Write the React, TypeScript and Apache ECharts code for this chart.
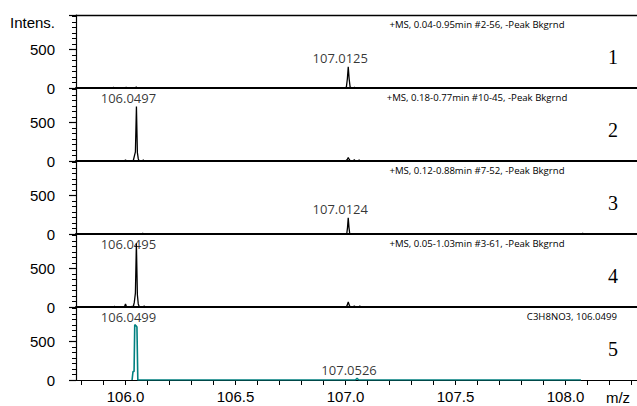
import React, { useEffect, useRef } from 'react';
import * as echarts from 'echarts';

// ---- axis ranges & ticks ----
const X_MIN = 105.775;
const X_MAX = 108.325;
const Y_MAX = 950;
const xTicks = [105.8, 105.9, 106.0, 106.1, 106.2, 106.3, 106.4, 106.5, 106.6, 106.7, 106.8, 106.9, 107.0, 107.1, 107.2, 107.3, 107.4, 107.5, 107.6, 107.7, 107.8, 107.9, 108.0, 108.1, 108.2, 108.3];
const xLabels = [106.0, 106.5, 107.0, 107.5, 108.0];
const yMajor = [0, 500];
const yMinor = [71, 143, 214, 286, 357, 429, 571, 643, 714, 786, 857, 929];

// ---- panel texts ----
const headers = [
  '+MS, 0.04-0.95min #2-56, -Peak Bkgrnd',
  '+MS, 0.18-0.77min #10-45, -Peak Bkgrnd',
  '+MS, 0.12-0.88min #7-52, -Peak Bkgrnd',
  '+MS, 0.05-1.03min #3-61, -Peak Bkgrnd',
  'C3H8NO3, 106.0499',
];
const panelNumbers = ['1', '2', '3', '4', '5'];

// ---- spectra [m/z, intensity] ----
const spectrum1 = [
  [105.78, 0], [105.94, 0], [105.945, 8], [105.95, 0], [106.0, 0], [106.003, 10], [106.006, 0],
  [106.045, 0], [106.049, 14], [106.053, 0], [106.995, 0], [107.004, 12], [107.0085, 120],
  [107.0125, 277], [107.0165, 120], [107.021, 12], [107.03, 0], [107.038, 0], [107.041, 10],
  [107.044, 0], [107.52, 0], [107.523, 8], [107.526, 0], [108.03, 0], [108.033, 8], [108.036, 0],
  [108.045, 0], [108.048, 8], [108.051, 0], [108.32, 0],
];
const spectrum2 = [
  [105.78, 0], [105.995, 0], [106.0, 15], [106.005, 0], [106.035, 0], [106.04, 60], [106.045, 120],
  [106.0497, 710], [106.054, 110], [106.058, 30], [106.062, 0], [106.078, 0], [106.081, 15],
  [106.084, 0], [106.88, 0], [106.883, 6], [106.886, 0], [107.0, 0], [107.008, 20], [107.0125, 45],
  [107.017, 20], [107.022, 0], [107.036, 0], [107.04, 18], [107.044, 0], [107.058, 0], [107.062, 15],
  [107.066, 0], [108.03, 0], [108.033, 8], [108.036, 0], [108.32, 0],
];
const spectrum3 = [
  [105.78, 0], [106.075, 0], [106.078, 12], [106.081, 0], [107.0, 0], [107.006, 10], [107.009, 80],
  [107.0124, 212], [107.016, 80], [107.019, 10], [107.025, 0], [108.03, 0], [108.033, 6],
  [108.036, 0], [108.075, 0], [108.078, 10], [108.081, 0], [108.32, 0],
];
const spectrum4 = [
  [105.78, 0], [105.945, 0], [105.95, 10], [105.955, 0], [105.995, 0], [106.0, 40], [106.005, 0],
  [106.025, 0], [106.03, 10], [106.035, 0], [106.04, 60], [106.045, 180], [106.0495, 830],
  [106.054, 160], [106.058, 40], [106.063, 0], [106.08, 0], [106.085, 12], [106.09, 0],
  [106.11, 0], [106.113, 8], [106.116, 0], [106.96, 0], [106.963, 8], [106.966, 0], [107.003, 0],
  [107.008, 25], [107.0125, 65], [107.017, 25], [107.022, 0], [107.035, 0], [107.04, 15],
  [107.045, 0], [107.06, 0], [107.065, 12], [107.07, 0], [107.5, 0], [107.503, 6], [107.506, 0],
  [107.99, 0], [107.993, 8], [107.996, 0], [108.06, 0], [108.063, 6], [108.066, 0], [108.32, 0],
];
const spectrum5 = [
  [106.03, 0], [106.034, 110], [106.039, 110], [106.042, 720], [106.048, 705], [106.052, 690],
  [106.056, 0], [107.045, 0], [107.0526, 22], [107.06, 0], [108.07, 0],
];
const spectra = [spectrum1, spectrum2, spectrum3, spectrum4, spectrum5];

// ---- labelled peaks [m/z, intensity] ----
const peaks1 = [[107.0125, 277]];
const peaks2 = [[106.0497, 710]];
const peaks3 = [[107.0124, 212]];
const peaks4 = [[106.0495, 830]];
const peaks5 = [[106.0499, 705], [107.0526, 22]];
const peakLists = [peaks1, peaks2, peaks3, peaks4, peaks5];

const TRACE_COLORS = ['#000000', '#000000', '#000000', '#000000', '#008080'];

const GRID_LEFT = 76;
const GRID_TOP = 15;
const PANEL_H = 73;
const SANS = 'Liberation Sans, Arial, sans-serif';
const NARROW = 'Open Sans, sans-serif';

function buildOption() {
  const grid: any[] = [];
  const xAxis: any[] = [];
  const yAxis: any[] = [];
  const series: any[] = [];
  const graphic: any[] = [];

  for (let i = 0; i < 5; i++) {
    const top = GRID_TOP + PANEL_H * i;
    grid.push({ left: GRID_LEFT, right: 0, top, height: PANEL_H, containLabel: false });
    const last = i === 4;
    xAxis.push({
      gridIndex: i,
      type: 'value',
      position: 'bottom',
      min: X_MIN,
      max: X_MAX,
      axisLine: { show: true, onZero: false, lineStyle: { color: '#000', width: last ? 1.2 : 2 } },
      axisTick: { show: last, customValues: xTicks, length: 5, lineStyle: { color: '#000', width: 1 } },
      axisLabel: {
        show: last,
        customValues: xLabels,
        formatter: (v: number) => v.toFixed(1),
        color: '#000',
        fontSize: 15,
        fontFamily: SANS,
        margin: 9,
      },
      splitLine: { show: false },
    });
    yAxis.push({
      gridIndex: i,
      type: 'value',
      position: 'left',
      min: 0,
      max: Y_MAX,
      axisLine: { show: true, onZero: false, lineStyle: { color: '#000', width: 1.2 } },
      axisTick: {
        show: true,
        customValues: i === 0 ? [...yMajor, Y_MAX] : yMajor,
        length: 7,
        lineStyle: { color: '#000', width: 1.2 },
      },
      axisLabel: { customValues: yMajor, color: '#000', fontSize: 15, fontFamily: SANS, margin: 21 },
      splitLine: { show: false },
    });
    yAxis.push({
      gridIndex: i,
      type: 'value',
      position: 'left',
      min: 0,
      max: Y_MAX,
      axisLine: { show: false, onZero: false },
      axisTick: { show: true, customValues: yMinor, length: 4, lineStyle: { color: '#000', width: 1 } },
      axisLabel: { show: false },
      splitLine: { show: false },
    });

    series.push({
      type: 'line',
      xAxisIndex: i,
      yAxisIndex: 2 * i,
      data: spectra[i],
      showSymbol: false,
      symbol: 'none',
      lineStyle: { color: TRACE_COLORS[i], width: last ? 1.6 : 1.3 },
      z: 3,
    });
    series.push({
      type: 'scatter',
      xAxisIndex: i,
      yAxisIndex: 2 * i,
      symbolSize: 0,
      data: peakLists[i].map((p) => ({
        value: p,
        label: i === 3 ? { offset: [-8, 9] } : undefined,
      })),
      label: {
        show: true,
        position: 'top',
        distance: 2,
        offset: [-8, 0],
        formatter: (p: any) => p.value[0].toFixed(4),
        color: '#000',
        fontSize: 13,
        fontFamily: NARROW,
      },
      z: 4,
    });

    graphic.push({
      type: 'text',
      x: last ? 617 : 477,
      y: top + 9,
      style: {
        text: headers[i],
        fontSize: 9.6,
        fontFamily: NARROW,
        fill: '#000',
        align: last ? 'right' : 'center',
        verticalAlign: 'middle',
      },
    });
    graphic.push({
      type: 'text',
      x: 613,
      y: top + 42,
      style: {
        text: panelNumbers[i],
        fontSize: 20,
        fontFamily: 'Liberation Serif, Times New Roman, serif',
        fill: '#000',
        align: 'center',
        verticalAlign: 'middle',
      },
    });
  }

  // top border of first panel
  xAxis.push({
    gridIndex: 0,
    type: 'value',
    position: 'top',
    min: X_MIN,
    max: X_MAX,
    axisLine: { show: true, onZero: false, lineStyle: { color: '#000', width: 1.3 } },
    axisTick: { show: false },
    axisLabel: { show: false },
    splitLine: { show: false },
  });

  graphic.push({
    type: 'text',
    x: 55,
    y: 22,
    style: { text: 'Intens.', fontSize: 15, fontFamily: SANS, fill: '#000', align: 'right', verticalAlign: 'middle' },
  });
  graphic.push({
    type: 'text',
    x: 618,
    y: 397,
    style: { text: 'm/z', fontSize: 15, fontFamily: SANS, fill: '#000', align: 'center', verticalAlign: 'middle' },
  });

  return {
    animation: false,
    backgroundColor: '#fff',
    grid,
    xAxis,
    yAxis,
    series,
    graphic,
  };
}

export default function App() {
  const ref = useRef<HTMLDivElement>(null);
  useEffect(() => {
    const chart = echarts.init(ref.current!, null, { renderer: 'svg' });
    chart.setOption(buildOption() as any);
    return () => chart.dispose();
  }, []);
  return (
    <div
      ref={ref}
      style={{ position: 'fixed', left: 0, top: 0, width: 637, height: 406, background: '#fff' }}
    />
  );
}
